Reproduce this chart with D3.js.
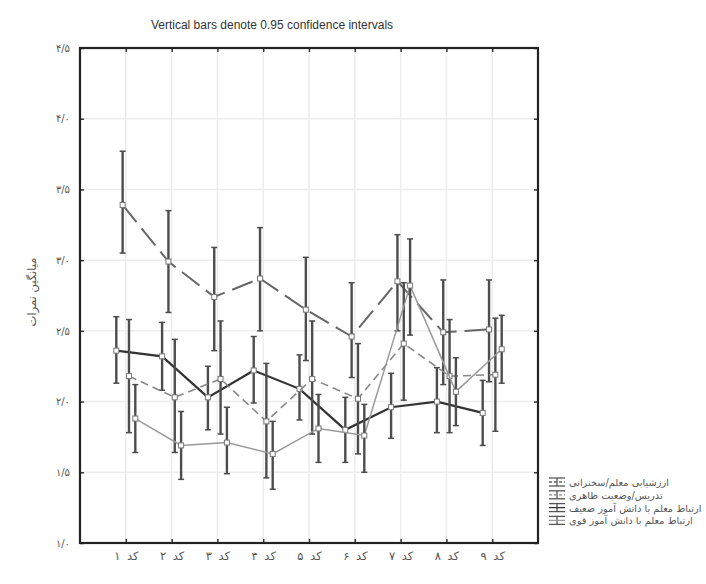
<!DOCTYPE html>
<html>
<head>
<meta charset="utf-8">
<script src="https://cdn.jsdelivr.net/npm/d3@7"></script>
<style>
  body { margin: 0; background: #fff; }
  .title { font-family: "Liberation Sans", Arial, sans-serif; font-size: 12px; fill: #333; }
  .fa { font-family: "DejaVu Sans", "Noto Sans", sans-serif; fill: #555; }
</style>
</head>
<body>
<div id="chart"></div>
<script>
// categories on the x axis
const categories = ['کد ۱', 'کد ۲', 'کد ۳', 'کد ۴', 'کد ۵', 'کد ۶', 'کد ۷', 'کد ۸', 'کد ۹'];
const yTicks = [1.0, 1.5, 2.0, 2.5, 3.0, 3.5, 4.0, 4.5];

// series names (legend order)
const seriesNames = [
  'ارتباط معلم با دانش آموز ضعیف',
  'ارزشیابی معلم/سخنرانی',
  'تدریس/وضعیت ظاهری',
  'ارتباط معلم با دانش آموز قوی',
];

// means and 0.95 confidence limits
const meanB = [2.36, 2.32, 2.03, 2.22, 2.09, 1.80, 1.96, 2.00, 1.92];
const upperB = [2.60, 2.56, 2.25, 2.46, 2.33, 2.03, 2.20, 2.24, 2.15];
const lowerB = [2.13, 2.08, 1.80, 1.99, 1.87, 1.57, 1.74, 1.78, 1.69];

const meanC = [2.18, 2.03, 2.16, 1.86, 2.16, 2.02, 2.41, 2.18, 2.19];
const upperC = [2.58, 2.44, 2.57, 2.27, 2.57, 2.41, 2.84, 2.58, 2.59];
const lowerC = [1.78, 1.64, 1.77, 1.46, 1.77, 1.63, 2.01, 1.78, 1.79];

const meanD = [1.88, 1.69, 1.71, 1.63, 1.81, 1.76, 2.82, 2.07, 2.37];
const upperD = [2.12, 1.93, 1.96, 1.86, 2.05, 1.98, 3.15, 2.31, 2.61];
const lowerD = [1.64, 1.45, 1.49, 1.38, 1.57, 1.50, 2.47, 1.83, 2.13];

const meanA = [3.39, 2.99, 2.74, 2.87, 2.65, 2.46, 2.85, 2.49, 2.51];
const upperA = [3.77, 3.35, 3.09, 3.23, 3.02, 2.84, 3.18, 2.86, 2.86];
const lowerA = [3.05, 2.63, 2.36, 2.50, 2.29, 2.17, 2.50, 2.12, 2.14];

const toFa = (s) => s.replace(/[0-9]/g, (c) => '۰۱۲۳۴۵۶۷۸۹'[+c]);

class MeanPlot {
  constructor(_config, _data) {
    this.config = {
      parentElement: _config.parentElement,
      containerWidth: 706,
      containerHeight: 584,
      margin: { top: 48, right: 168, bottom: 41, left: 80 },
      title: _config.title,
      yAxisTitle: _config.yAxisTitle,
    };
    this.data = _data;
    this.initVis();
  }

  initVis() {
    const vis = this;
    vis.width = vis.config.containerWidth - vis.config.margin.left - vis.config.margin.right;
    vis.height = vis.config.containerHeight - vis.config.margin.top - vis.config.margin.bottom;

    vis.svg = d3.select(vis.config.parentElement).append('svg')
      .attr('width', vis.config.containerWidth)
      .attr('height', vis.config.containerHeight);

    vis.chartArea = vis.svg.append('g')
      .attr('transform', `translate(${vis.config.margin.left},${vis.config.margin.top})`);

    vis.xScale = d3.scalePoint().domain(categories).range([0, vis.width]).padding(1);
    vis.yScale = d3.scaleLinear().domain([1, 4.5]).range([vis.height, 0]);
    // small horizontal shift per series so the bars don't overlap
    vis.offset = d3.scalePoint().domain(d3.range(vis.data.length)).range([-9.5, 9.5]);

    vis.renderVis();
  }

  renderVis() {
    const vis = this;
    const g = vis.chartArea;

    /* faint grid */
    g.append('g').selectAll('line').data(categories).join('line')
      .attr('x1', (d) => vis.xScale(d)).attr('x2', (d) => vis.xScale(d))
      .attr('y1', 0).attr('y2', vis.height)
      .attr('stroke', '#ededed').attr('stroke-width', 1.5);
    g.append('g').selectAll('line').data(yTicks.slice(1, -1)).join('line')
      .attr('x1', 0).attr('x2', vis.width)
      .attr('y1', (d) => vis.yScale(d)).attr('y2', (d) => vis.yScale(d))
      .attr('stroke', '#ededed').attr('stroke-width', 1.5);

    /* axes (ticks pointing inward, mirrored on top/right) */
    const fmt = (d) => toFa(d.toFixed(1).replace('.', '/'));
    const yL = g.append('g').call(d3.axisLeft(vis.yScale).tickValues(yTicks).tickSize(-4).tickPadding(10).tickFormat(fmt));
    const yR = g.append('g').attr('transform', `translate(${vis.width},0)`)
      .call(d3.axisRight(vis.yScale).tickValues(yTicks).tickSize(-4).tickFormat(''));
    const xB = g.append('g').attr('transform', `translate(0,${vis.height})`)
      .call(d3.axisBottom(vis.xScale).tickSize(-4).tickPadding(9));
    const xT = g.append('g').call(d3.axisTop(vis.xScale).tickSize(-4).tickFormat(''));
    [yL, yR, xB, xT].forEach((ax) => {
      ax.select('.domain').remove();
      ax.selectAll('.tick line').attr('stroke', '#333').attr('stroke-width', 1.5);
    });
    yL.selectAll('.tick text').attr('class', 'fa').style('font-size', '10px').attr('fill', '#555');
    xB.selectAll('.tick text').attr('class', 'fa').style('font-size', '11.5px').attr('fill', '#666')
      .attr('word-spacing', '3px');

    /* series lines, error bars and markers */
    vis.data.forEach((s, si) => {
      const px = (i) => vis.xScale(categories[i]) + vis.offset(si);
      const line = d3.line().x((d, i) => px(i)).y((d) => vis.yScale(d));
      g.append('path').datum(s.mean)
        .attr('d', line)
        .attr('fill', 'none')
        .attr('stroke', s.color)
        .attr('stroke-width', s.width)
        .attr('stroke-dasharray', s.dash);

      const bars = g.append('g').attr('stroke', '#4d4d4d').attr('stroke-width', 2.4);
      s.mean.forEach((m, i) => {
        bars.append('line').attr('x1', px(i)).attr('x2', px(i))
          .attr('y1', vis.yScale(s.upper[i])).attr('y2', vis.yScale(s.lower[i]));
        [s.upper[i], s.lower[i]].forEach((v) => {
          bars.append('line').attr('x1', px(i) - 3).attr('x2', px(i) + 3)
            .attr('y1', vis.yScale(v)).attr('y2', vis.yScale(v)).attr('stroke-width', 1.5);
        });
      });
      g.append('g').selectAll('rect').data(s.mean).join('rect')
        .attr('x', (d, i) => px(i) - 2.5).attr('y', (d) => vis.yScale(d) - 2.5)
        .attr('width', 5).attr('height', 5)
        .attr('fill', '#fff').attr('stroke', '#777').attr('stroke-width', 1);
    });

    /* frame */
    g.append('rect').attr('width', vis.width).attr('height', vis.height)
      .attr('fill', 'none').attr('stroke', '#222').attr('stroke-width', 2.2);

    /* title and y label */
    vis.svg.append('text').attr('class', 'title')
      .attr('x', 272).attr('y', 29).attr('text-anchor', 'middle')
      .text(vis.config.title);
    vis.svg.append('text').attr('class', 'fa')
      .attr('transform', 'translate(36,292)rotate(-90)')
      .attr('text-anchor', 'middle').style('font-size', '11.5px')
      .text(vis.config.yAxisTitle);

    /* legend */
    const legend = vis.svg.append('g').attr('transform', 'translate(549,482)');
    const order = [1, 2, 0, 3];
    order.forEach((si, r) => {
      const s = vis.data[si];
      const row = legend.append('g').attr('transform', `translate(0,${r * 12.8})`);
      row.append('line').attr('x1', 0).attr('x2', 16).attr('y1', -4).attr('y2', -4).attr('stroke', '#555').attr('stroke-width', 1.3);
      row.append('line').attr('x1', 0).attr('x2', 16).attr('y1', 4).attr('y2', 4).attr('stroke', '#555').attr('stroke-width', 1.3);
      row.append('line').attr('x1', 8).attr('x2', 8).attr('y1', -4).attr('y2', 4).attr('stroke', '#555').attr('stroke-width', 1.3);
      row.append('line').attr('x1', 0).attr('x2', 16).attr('y1', 0).attr('y2', 0)
        .attr('stroke', s.color).attr('stroke-width', 1.3).attr('stroke-dasharray', s.dash ? '3,2' : null);
      row.append('text').attr('class', 'fa').attr('x', 20).attr('y', 4)
        .style('font-size', '9.8px').attr('fill', '#444')
        .text(seriesNames[si]);
    });
  }
}

const seriesData = [
  { mean: meanB, upper: upperB, lower: lowerB, color: '#333', width: 2.2, dash: null },
  { mean: meanA, upper: upperA, lower: lowerA, color: '#666', width: 2, dash: '22,8' },
  { mean: meanC, upper: upperC, lower: lowerC, color: '#888', width: 1.6, dash: '8,5' },
  { mean: meanD, upper: upperD, lower: lowerD, color: '#999', width: 1.5, dash: null },
];

new MeanPlot({
  parentElement: '#chart',
  title: 'Vertical bars denote 0.95 confidence intervals',
  yAxisTitle: 'میانگین نمرات',
}, seriesData);
</script>
</body>
</html>
